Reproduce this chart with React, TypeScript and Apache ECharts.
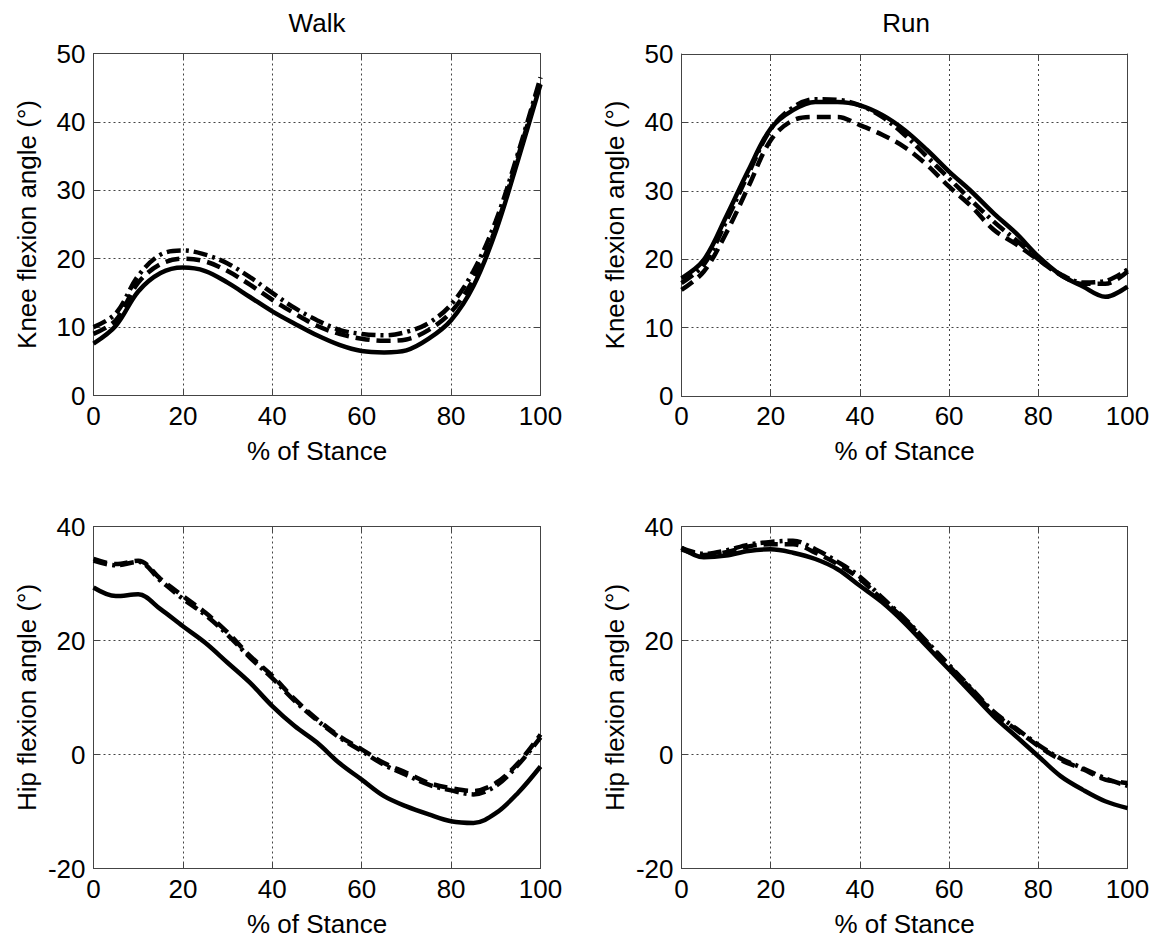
import React, { useEffect, useRef } from "react";
import * as echarts from "echarts";

const stance = [0, 5, 10, 15, 20, 25, 30, 35, 40, 45, 50, 55, 60, 65, 70, 75, 80, 85, 90, 95, 100];
const xTicks = [0, 20, 40, 60, 80, 100];
const panelTitles = ["Walk", "Run"];
const kneeLabel = "Knee flexion angle (°)";
const hipLabel = "Hip flexion angle (°)";
const xLabel = "% of Stance";

const walkKneeSolid = [7.6, 10.2, 15.2, 17.9, 18.7, 18.2, 16.5, 14.4, 12.3, 10.5, 8.8, 7.4, 6.5, 6.3, 6.6, 8.3, 11, 16, 24, 34.5, 45.5];
const walkKneeDashed = [9, 11, 16.5, 19.2, 20, 19.6, 18.2, 16.2, 14, 12, 10.2, 9, 8.3, 8, 8.2, 9.6, 12.2, 17, 24.5, 35, 46];
const walkKneeDashDot = [10, 12, 17.5, 20.6, 21.2, 20.6, 19.3, 17.3, 15, 12.8, 11, 9.6, 9, 8.8, 9.3, 10.6, 13.3, 18.2, 25.5, 35.5, 46.5];

const runKneeSolid = [17.2, 19.9, 26.2, 33, 39.1, 41.8, 43, 43, 42.5, 41.1, 38.9, 36, 32.8, 29.9, 26.7, 23.8, 20.4, 17.7, 16, 14.5, 16];
const runKneeDashed = [15.5, 18.2, 23.8, 30.6, 37.4, 40.3, 40.8, 40.8, 39.6, 38.2, 36.4, 33.8, 30.6, 27.7, 24.3, 22.2, 19.9, 17.7, 16.4, 16.4, 18.2];
const runKneeDashDot = [16.5, 19.2, 25.5, 32.5, 39, 42.2, 43.4, 43.3, 42.5, 40.8, 38.2, 35, 31.8, 28.6, 25.5, 22.8, 20, 17.8, 16.6, 16.8, 18.5];

const walkHipSolid = [29.3, 27.8, 28.1, 25.5, 22.5, 19.6, 16.1, 12.6, 8.5, 5, 2.1, -1.5, -4.4, -7.3, -9.1, -10.5, -11.7, -12, -10.3, -6.7, -2.1];
const walkHipDashed = [34.3, 33.4, 34, 30.8, 27.8, 24.9, 21.4, 17.3, 13.8, 9.7, 6.2, 3.2, 0.9, -1.5, -3.2, -5, -5.9, -6.4, -5, -1.5, 3.5];
const walkHipDashDot = [34, 33.2, 33.8, 30.5, 27.3, 24.5, 21, 17, 13.4, 9.4, 6, 3, 0.6, -1.8, -3.6, -5.3, -6.3, -7, -5.5, -1.8, 3];

const runHipSolid = [36.3, 34.6, 34.9, 35.7, 36, 35.4, 34.3, 32.5, 29.6, 26.7, 23.1, 19, 14.9, 10.8, 6.7, 3.2, -0.3, -3.8, -6.2, -8.2, -9.4];
const runHipDashed = [36, 35, 35.5, 36.5, 36.9, 36.9, 35.4, 33.4, 30.8, 27.2, 23.7, 19.6, 15.5, 11.4, 7.3, 4.4, 1.5, -0.9, -2.6, -4.4, -5];
const runHipDashDot = [36.2, 35.2, 35.8, 36.8, 37.3, 37.5, 36, 33.8, 31.2, 27.5, 23.9, 19.8, 15.7, 11.6, 7.5, 4.6, 1.7, -0.7, -2.4, -4.2, -5.5];

const FONT = "'Liberation Sans', Arial, Helvetica, sans-serif";
const FRAME = "#444";
const FS = 26;

export default function App() {
  const ref = useRef<HTMLDivElement>(null);
  useEffect(() => {
    if (!ref.current) return;
    const chart = echarts.init(ref.current, undefined, { renderer: "svg" });

    const panels = [
      { grid: { left: 93.5, top: 53.5, width: 447, height: 342 }, y: [0, 50, 10], name: kneeLabel, data: [walkKneeSolid, walkKneeDashed, walkKneeDashDot] },
      { grid: { left: 681.5, top: 54, width: 446, height: 342 }, y: [0, 50, 10], name: kneeLabel, data: [runKneeSolid, runKneeDashed, runKneeDashDot] },
      { grid: { left: 93.5, top: 526.5, width: 447, height: 342 }, y: [-20, 40, 20], name: hipLabel, data: [walkHipSolid, walkHipDashed, walkHipDashDot] },
      { grid: { left: 681.5, top: 526.5, width: 446, height: 342 }, y: [-20, 40, 20], name: hipLabel, data: [runHipSolid, runHipDashed, runHipDashDot] },
    ];

    const styles: any[] = ["solid", [14, 7], [14, 5, 3, 5]];

    const grids: any[] = [];
    const xAxes: any[] = [];
    const yAxes: any[] = [];
    const series: any[] = [];

    panels.forEach((p, i) => {
      grids.push({ ...p.grid, show: false });
      const lineCommon = { show: true, onZero: false, lineStyle: { color: FRAME, width: 1 } };
      const tickCommon = { show: true, inside: true, length: 6, lineStyle: { color: FRAME, width: 1 } };
      xAxes.push({
        type: "value", gridIndex: i, min: 0, max: 100, interval: 20, position: "bottom",
        axisLine: lineCommon, axisTick: tickCommon,
        axisLabel: { color: "#000", fontSize: FS, fontFamily: FONT, margin: 7, formatter: (v: number) => (xTicks.includes(v) ? String(v) : "") },
        splitLine: { show: true, lineStyle: { color: FRAME, type: [2, 3], width: 1 } },
        name: xLabel, nameLocation: "middle", nameGap: 42,
        nameTextStyle: { color: "#000", fontSize: FS, fontFamily: FONT },
      });
      xAxes.push({
        type: "value", gridIndex: i, min: 0, max: 100, interval: 20, position: "top",
        axisLine: lineCommon, axisTick: tickCommon, axisLabel: { show: false }, splitLine: { show: false },
      });
      yAxes.push({
        type: "value", gridIndex: i, min: p.y[0], max: p.y[1], interval: p.y[2], position: "left",
        axisLine: lineCommon, axisTick: tickCommon,
        axisLabel: { color: "#000", fontSize: FS, fontFamily: FONT, margin: 8 },
        splitLine: { show: true, lineStyle: { color: FRAME, type: [2, 3], width: 1 } },
        name: p.name, nameLocation: "middle", nameGap: 54,
        nameTextStyle: { color: "#000", fontSize: FS, fontFamily: FONT },
      });
      yAxes.push({
        type: "value", gridIndex: i, min: p.y[0], max: p.y[1], interval: p.y[2], position: "right",
        axisLine: lineCommon, axisTick: tickCommon, axisLabel: { show: false }, splitLine: { show: false },
      });
      p.data.forEach((vals, k) => {
        series.push({
          type: "line", xAxisIndex: 2 * i, yAxisIndex: 2 * i,
          data: stance.map((x, j) => [x, vals[j]]),
          showSymbol: false, smooth: 0.35,
          lineStyle: { color: "#000", width: 4.5, type: styles[k] },
          clip: true,
        });
      });
    });

    chart.setOption({
      animation: false,
      backgroundColor: "#fff",
      title: [
        { text: panelTitles[0], left: 312, top: 5, textAlign: "center", textStyle: { color: "#000", fontSize: FS, fontWeight: "normal", fontFamily: FONT } },
        { text: panelTitles[1], left: 901, top: 5, textAlign: "center", textStyle: { color: "#000", fontSize: FS, fontWeight: "normal", fontFamily: FONT } },
      ],
      grid: grids,
      xAxis: xAxes,
      yAxis: yAxes,
      series,
    });
    return () => chart.dispose();
  }, []);
  return <div ref={ref} style={{ position: "fixed", left: 0, top: 0, width: 1160, height: 942, background: "#fff" }} />;
}
